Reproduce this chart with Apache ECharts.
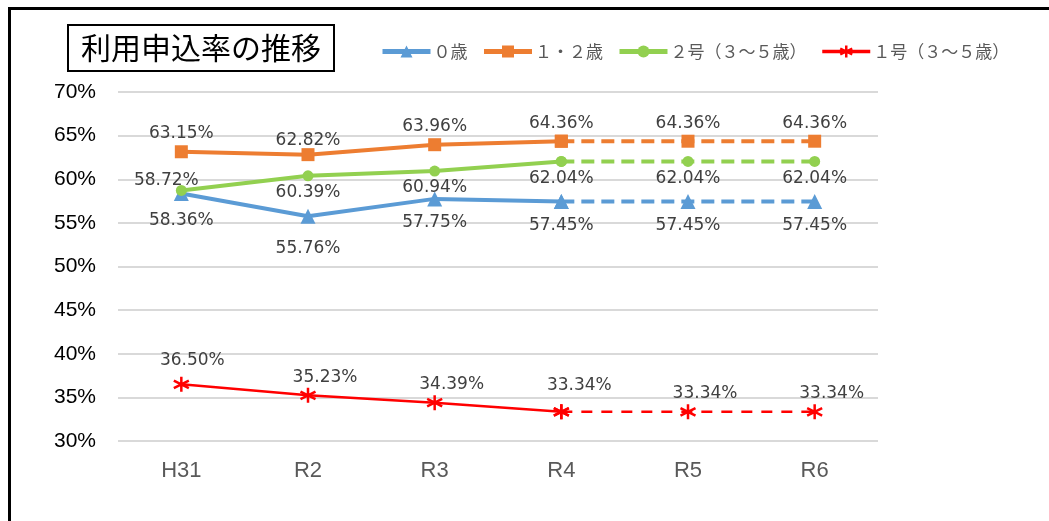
<!DOCTYPE html>
<html>
<head>
<meta charset="utf-8">
<script src="https://cdn.jsdelivr.net/npm/echarts@6/dist/echarts.min.js"></script>
<style>
html,body{margin:0;padding:0;background:#fff;}
#chart{width:1049px;height:521px;}
</style>
</head>
<body>
<div id="chart"></div>
<script>
// ---- data ----
const categories = ['H31', 'R2', 'R3', 'R4', 'R5', 'R6'];
const seriesNames = ['０歳', '１・２歳', '２号（３～５歳）', '１号（３～５歳）'];
const age0 = [58.36, 55.76, 57.75, 57.45, 57.45, 57.45];
const age12 = [63.15, 62.82, 63.96, 64.36, 64.36, 64.36];
const no2 = [58.72, 60.39, 60.94, 62.04, 62.04, 62.04];
const no1 = [36.50, 35.23, 34.39, 33.34, 33.34, 33.34];
const lastActualIndex = 3; // R4: actual values up to here, dashed projection after
const yMin = 30, yMax = 70, yStep = 5;

// ---- styles ----
const colors = ['#5B9BD5', '#ED7D31', '#92D050', '#FF0000'];
const asterisk = 'path://M0,-10 L0,10 M-8.66,-5 L8.66,5 M-8.66,5 L8.66,-5';
const styles = [
  {symbol: 'triangle', size: 15, width: 4, label: {position: 'bottom', distance: 8}, dash: [13, 7],
   tweaks: {0: {offset: [0, 3]}, 1: {offset: [0, 8]}}},
  {symbol: 'rect', size: 13, width: 4, label: {position: 'top', distance: 3}, dash: [13, 7],
   tweaks: {1: {offset: [0, 4]}}},
  {symbol: 'circle', size: 11, width: 4, label: {position: 'bottom', distance: 3}, dash: [13, 7],
   tweaks: {0: {position: 'top', distance: 0, offset: [-15, 4]}}},
  {symbol: asterisk, size: 15, width: 2.5, label: {position: 'top', distance: 1, offset: [17, 0]}, dash: [11, 9],
   tweaks: {0: {offset: [11, -5]}, 3: {offset: [18, -8]}}}
];
const values = [age0, age12, no2, no1];

const labelFont = {fontFamily: 'DejaVu Sans', fontSize: 17, color: '#404040'};

const series = [];
values.forEach((vals, k) => {
  const st = styles[k];
  const baseLabel = Object.assign({show: true, formatter: p => Number(p.value).toFixed(2) + '%'}, labelFont, st.label);
  const itemStyle = k === 3
    ? {color: colors[k], borderColor: colors[k], borderWidth: 2.5}
    : {color: colors[k], borderColor: colors[k], borderWidth: 0};
  const solidData = vals.map((v, i) => {
    if (i > lastActualIndex) return '-';
    const t = st.tweaks[i];
    return t ? {value: v, label: t} : v;
  });
  const dashData = vals.map((v, i) => {
    if (i < lastActualIndex) return '-';
    if (i === lastActualIndex) return {value: v, label: {show: false}};
    const t = st.tweaks[i];
    return t ? {value: v, label: t} : v;
  });
  series.push({
    name: seriesNames[k], type: 'line', data: solidData,
    symbol: st.symbol, symbolSize: st.size, showAllSymbol: true,
    lineStyle: {color: colors[k], width: st.width},
    itemStyle: itemStyle, label: baseLabel, z: 2 + k
  });
  series.push({
    name: seriesNames[k], type: 'line', data: dashData,
    symbol: st.symbol, symbolSize: st.size, showAllSymbol: true,
    lineStyle: {color: colors[k], width: st.width, type: st.dash},
    itemStyle: itemStyle, label: baseLabel, z: 2 + k
  });
});

const legendData = seriesNames.map((n, k) => ({
  name: n,
  lineStyle: {width: styles[k].width + 1, color: colors[k]},
  itemStyle: k === 3 ? {color: colors[k], borderColor: colors[k], borderWidth: 2.5} : {color: colors[k], borderWidth: 0}
}));

const chart = echarts.init(document.getElementById('chart'));
chart.setOption({
  animation: false,
  backgroundColor: '#ffffff',
  title: {
    text: '利用申込率の推移',
    left: 68, top: 25,
    padding: [7, 13],
    borderColor: '#000', borderWidth: 2,
    textStyle: {fontFamily: 'Noto Sans CJK JP', fontSize: 30, fontWeight: 'normal', color: '#000', lineHeight: 32}
  },
  legend: {
    data: legendData,
    left: 375, top: 38,
    itemWidth: 48, itemHeight: 15, itemGap: 14,
    textStyle: {fontFamily: 'Noto Sans CJK JP', fontSize: 17, color: '#595959', padding: [0, 0, 0, -2]}
  },
  grid: {left: 118, right: 171, top: 92, bottom: 80, containLabel: false},
  xAxis: {
    type: 'category', data: categories, boundaryGap: true,
    axisLine: {show: false}, axisTick: {show: false},
    axisLabel: {fontFamily: 'Liberation Sans', fontSize: 22, color: '#595959', margin: 19}
  },
  yAxis: {
    type: 'value', min: yMin, max: yMax, interval: yStep,
    axisLine: {show: false}, axisTick: {show: false},
    axisLabel: {formatter: '{value}%', fontFamily: 'Liberation Sans', fontSize: 21, color: '#000', margin: 22},
    splitLine: {lineStyle: {color: '#D9D9D9', width: 2}}
  },
  graphic: [{
    type: 'polyline',
    shape: {points: [[9.5, 521], [9.5, 8.5], [1049, 8.5]]},
    style: {stroke: '#000', lineWidth: 3, fill: null},
    silent: true
  }],
  series: series
});
</script>
</body>
</html>
